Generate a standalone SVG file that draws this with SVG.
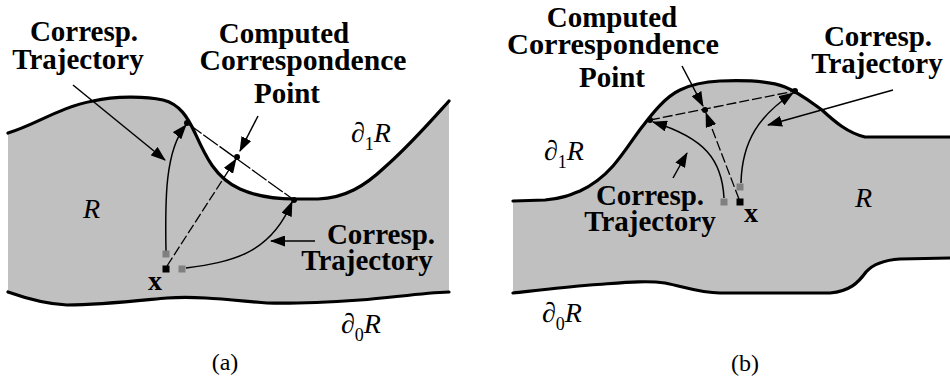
<svg xmlns="http://www.w3.org/2000/svg" width="950" height="380" viewBox="0 0 950 380">
<defs>
<style>
.region{fill:#c0c0c0;stroke:none}
.bnd{fill:none;stroke:#000;stroke-width:3.2;stroke-linejoin:round;stroke-linecap:round}
.traj{fill:none;stroke:#000;stroke-width:1.5}
.dash{fill:none;stroke:#000;stroke-width:1.3;stroke-dasharray:10 3}
.chord{fill:none;stroke:#000;stroke-width:1.3;stroke-dasharray:18 2}
.lead{fill:none;stroke:#000;stroke-width:1.5}
.dot{fill:#000}
.sq{fill:#000}
.gsq{fill:#808080}
.lbl{font-family:"Liberation Serif","Times New Roman",serif;font-weight:bold;font-size:29px;fill:#000;text-anchor:middle}
.math{font-family:"Liberation Serif","Times New Roman",serif;font-size:28px;fill:#000}
.it{font-style:italic}
.sub{font-size:18px}
.cap{font-family:"Liberation Serif","Times New Roman",serif;font-size:24px;fill:#000;text-anchor:middle}
.bx{font-family:"Liberation Serif","Times New Roman",serif;font-weight:bold;font-size:28px;fill:#000}
</style>
<marker id="ah" viewBox="0 0 15 11" refX="14" refY="5.5" markerWidth="15" markerHeight="11" markerUnits="userSpaceOnUse" orient="auto">
<path d="M0,0 L15,5.5 L0,11 Z" fill="#000"/>
</marker>
</defs>

<g id="panel-a">
<g id="region-a">
<path class="region" d="M8,133 C 35,125 60,107 93,101 C 115,96 145,96 163,100 C 180,104 188,118 195,133 C 205,155 215,178 240,189 C 258,197 275,199 294,199 L 318,199 C 345,198 365,186 385,167 C 410,145 430,122 449,101 L449,292 C 420,293 390,298 360,300 C 330,302 300,304 267,303 C 230,300 200,296 167,298 C 135,301 100,305 67,305 C 45,304 25,298 8,292 Z"/>
<path class="bnd" d="M8,133 C 35,125 60,107 93,101 C 115,96 145,96 163,100 C 180,104 188,118 195,133 C 205,155 215,178 240,189 C 258,197 275,199 294,199 L 318,199 C 345,198 365,186 385,167 C 410,145 430,122 449,101"/>
<path class="bnd" d="M8,292 C 25,298 45,304 67,305 C 100,305 135,301 167,298 C 200,296 230,300 267,303 C 300,304 330,302 360,300 C 390,298 420,293 449,292"/>
</g>
<g id="connectors-a">
<path class="chord" d="M187,123 L294,200"/>
<path class="traj" d="M166,251 C 165,200 165,150 186,125" marker-end="url(#ah)"/>
<path class="dash" d="M167,266 L236,159" marker-end="url(#ah)"/>
<path class="traj" d="M186,268 C 230,262 270,255 292,202" marker-end="url(#ah)"/>
<path class="lead" d="M73,85 L165,160" marker-end="url(#ah)"/>
<path class="lead" d="M258,116 L240,151" marker-end="url(#ah)"/>
<path class="lead" d="M315,241 L271,241" marker-end="url(#ah)"/>
</g>
<g id="points-a">
<circle class="dot" cx="187" cy="123" r="3"/>
<circle class="dot" cx="237" cy="157" r="3"/>
<circle class="dot" cx="294" cy="200" r="3"/>
<rect class="gsq" x="162.5" y="250.5" width="7" height="7"/>
<rect class="gsq" x="178.5" y="265.5" width="7" height="7"/>
<rect class="sq" x="162.5" y="265.5" width="7" height="7"/>
</g>
<g id="labels-a">
<text class="lbl" x="84" y="41">Corresp.</text>
<text class="lbl" x="78" y="69">Trajectory</text>
<text class="lbl" x="284" y="43">Computed</text>
<text class="lbl" x="303" y="70" textLength="207" lengthAdjust="spacingAndGlyphs">Correspondence</text>
<text class="lbl" x="287" y="103">Point</text>
<text class="lbl" x="381" y="244">Corresp.</text>
<text class="lbl" x="367" y="270">Trajectory</text>
<text class="math" x="351" y="142">∂<tspan class="sub" dy="8">1</tspan><tspan class="it" dy="-8">R</tspan></text>
<text class="math" x="341" y="333">∂<tspan class="sub" dy="8">0</tspan><tspan class="it" dy="-8">R</tspan></text>
<text class="math it" x="83" y="218">R</text>
<text class="bx" x="148" y="290">x</text>
<text class="cap" x="225" y="370">(a)</text>
</g>
</g>

<g id="panel-b">
<g id="region-b">
<path class="region" d="M513,201 L545,200 C 560,199 570,195 580,191 C 595,184 605,175 613,166 C 625,152 632,140 642,127 C 652,114 665,97 680,90 C 690,85 700,82 720,81 C 745,80 770,81 785,87 C 800,93 812,103 822,110 C 835,122 848,133 865,137 L 950,137 L950,258 L 900,259 C 885,260 874,263 866,272 C 858,283 850,291 830,293 L 720,293 C 700,293 685,287 665,283 C 645,280 620,283 590,285 C 565,287 540,290 513,293 Z"/>
<path class="bnd" d="M513,201 L545,200 C 560,199 570,195 580,191 C 595,184 605,175 613,166 C 625,152 632,140 642,127 C 652,114 665,97 680,90 C 690,85 700,82 720,81 C 745,80 770,81 785,87 C 800,93 812,103 822,110 C 835,122 848,133 865,137 L 950,137"/>
<path class="bnd" d="M513,293 C 540,290 565,287 590,285 C 620,283 645,280 665,283 C 685,287 700,293 720,293 L 830,293 C 850,291 858,283 866,272 C 874,263 885,260 900,259 L 950,258"/>
</g>
<g id="connectors-b">
<path class="dash" d="M650,120 L795,91"/>
<path class="dash" d="M739,199 L706,113" marker-end="url(#ah)"/>
<path class="traj" d="M724,198 C 722,160 705,138 653,122" marker-end="url(#ah)"/>
<path class="traj" d="M741,183 C 742,140 760,115 793,93" marker-end="url(#ah)"/>
<path class="lead" d="M682,66 L703,106" marker-end="url(#ah)"/>
<path class="lead" d="M893,90 L768,125" marker-end="url(#ah)"/>
<path class="lead" d="M673,178 L687,153" marker-end="url(#ah)"/>
</g>
<g id="points-b">
<circle class="dot" cx="650" cy="120" r="3"/>
<circle class="dot" cx="705" cy="110" r="3"/>
<circle class="dot" cx="795" cy="91" r="3"/>
<rect class="gsq" x="720.5" y="198.5" width="7" height="7"/>
<rect class="gsq" x="736.5" y="183.5" width="7" height="7"/>
<rect class="sq" x="736.5" y="198.5" width="7" height="7"/>
</g>
<g id="labels-b">
<text class="lbl" x="612" y="27">Computed</text>
<text class="lbl" x="613" y="54" textLength="212" lengthAdjust="spacingAndGlyphs">Correspondence</text>
<text class="lbl" x="612" y="87">Point</text>
<text class="lbl" x="878" y="46">Corresp.</text>
<text class="lbl" x="877" y="73">Trajectory</text>
<text class="lbl" x="650" y="205">Corresp.</text>
<text class="lbl" x="650" y="231">Trajectory</text>
<text class="math" x="544" y="160">∂<tspan class="sub" dy="8">1</tspan><tspan class="it" dy="-8">R</tspan></text>
<text class="math" x="542" y="322">∂<tspan class="sub" dy="8">0</tspan><tspan class="it" dy="-8">R</tspan></text>
<text class="math it" x="855" y="207">R</text>
<text class="bx" x="744" y="222">x</text>
<text class="cap" x="745" y="371">(b)</text>
</g>
</g>
</svg>
